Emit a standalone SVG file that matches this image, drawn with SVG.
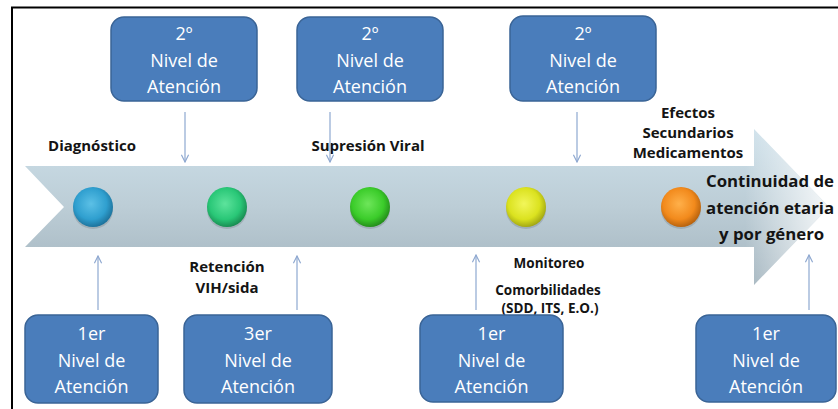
<svg xmlns="http://www.w3.org/2000/svg" width="838" height="409" viewBox="0 0 838 409">
  <defs>
    <style>
      .box rect { fill: #4a7dbb; stroke: #3a6496; stroke-width: 1.5; }
      .box text { fill: #ffffff; font-family: "Open Sans", "Liberation Sans", sans-serif; font-size: 18px; text-anchor: middle; }
      .lbl { fill: #141414; font-family: "Open Sans", "Liberation Sans", sans-serif; font-weight: bold; font-size: 15px; text-anchor: middle; }
      .lbl.sm { font-size: 13.5px; }
      .lbl.lg { font-size: 16.8px; text-anchor: start; }
      .conn line { stroke: #8ea8d0; stroke-width: 1.2; fill: none; marker-end: url(#tip); }
    </style>
    <marker id="tip" viewBox="0 0 10 10" refX="9" refY="5" markerWidth="9" markerHeight="9" markerUnits="userSpaceOnUse" orient="auto">
      <path d="M1,1 L9,5 L1,9" fill="none" stroke="#8ea8d0" stroke-width="1.3"/>
    </marker>
    <linearGradient id="shaft" x1="0" y1="0" x2="0" y2="1">
      <stop offset="0" stop-color="#cde0ea"/>
      <stop offset="0.5" stop-color="#bccdd6"/>
      <stop offset="1" stop-color="#a3b4be"/>
    </linearGradient>
    <linearGradient id="fade" gradientUnits="userSpaceOnUse" x1="745" y1="0" x2="830" y2="0">
      <stop offset="0" stop-color="#ffffff" stop-opacity="0"/>
      <stop offset="1" stop-color="#ffffff" stop-opacity="0.85"/>
    </linearGradient>
    <radialGradient id="gBlue" cx="0.45" cy="0.42" r="0.6">
      <stop offset="0" stop-color="#5cc0e6"/>
      <stop offset="0.65" stop-color="#2f9fcf"/>
      <stop offset="1" stop-color="#1c6f98"/>
    </radialGradient>
    <radialGradient id="gTeal" cx="0.45" cy="0.42" r="0.6">
      <stop offset="0" stop-color="#5de39c"/>
      <stop offset="0.65" stop-color="#29c777"/>
      <stop offset="1" stop-color="#18884f"/>
    </radialGradient>
    <radialGradient id="gGreen" cx="0.45" cy="0.42" r="0.6">
      <stop offset="0" stop-color="#6ee65a"/>
      <stop offset="0.65" stop-color="#3bcc2a"/>
      <stop offset="1" stop-color="#23891a"/>
    </radialGradient>
    <radialGradient id="gYellow" cx="0.45" cy="0.42" r="0.6">
      <stop offset="0" stop-color="#f2f65a"/>
      <stop offset="0.65" stop-color="#dbe21f"/>
      <stop offset="1" stop-color="#9ea312"/>
    </radialGradient>
    <radialGradient id="gOrange" cx="0.45" cy="0.42" r="0.6">
      <stop offset="0" stop-color="#ffb04a"/>
      <stop offset="0.65" stop-color="#f28a1c"/>
      <stop offset="1" stop-color="#b35f0c"/>
    </radialGradient>
  </defs>

  <rect width="838" height="409" fill="#ffffff"/>
  <!-- frame (top and left edges) -->
  <path d="M12,409 L12,7.5 L838,7.5" fill="none" stroke="#000000" stroke-width="2"/>

  <!-- timeline arrow -->
  <g id="timeline">
    <path d="M25,166 L754,166 L754,129 L829,207 L754,285 L754,247 L25,247 L64,207 Z" fill="url(#shaft)"/>
    <path d="M25,166 L754,166 L754,129 L829,207 L754,285 L754,247 L25,247 L64,207 Z" fill="url(#fade)"/>
  </g>

  <!-- milestones on the timeline -->
  <g id="dot-diagnostico">
    <ellipse cx="93" cy="210" rx="20" ry="19" fill="#000" opacity="0.12"/>
    <circle cx="93" cy="207" r="20" fill="url(#gBlue)"/>
  </g>
  <g id="dot-retencion">
    <ellipse cx="227" cy="210" rx="20" ry="19" fill="#000" opacity="0.12"/>
    <circle cx="227" cy="207" r="20" fill="url(#gTeal)"/>
  </g>
  <g id="dot-supresion">
    <ellipse cx="370" cy="210" rx="20" ry="19" fill="#000" opacity="0.12"/>
    <circle cx="370" cy="207" r="20" fill="url(#gGreen)"/>
  </g>
  <g id="dot-monitoreo">
    <ellipse cx="526" cy="210" rx="20" ry="19" fill="#000" opacity="0.12"/>
    <circle cx="526" cy="207" r="20" fill="url(#gYellow)"/>
  </g>
  <g id="dot-efectos">
    <ellipse cx="681" cy="210" rx="20" ry="19" fill="#000" opacity="0.12"/>
    <circle cx="681" cy="207" r="20" fill="url(#gOrange)"/>
  </g>

  <!-- stage labels -->
  <g id="label-diagnostico"><text class="lbl" x="92" y="151">Diagnóstico</text></g>
  <g id="label-supresion"><text class="lbl" x="368" y="151">Supresión Viral</text></g>
  <g id="label-efectos">
    <text class="lbl" x="688" y="118">Efectos</text>
    <text class="lbl" x="688" y="138">Secundarios</text>
    <text class="lbl" x="688" y="158">Medicamentos</text>
  </g>
  <g id="label-continuidad">
    <text class="lbl lg" x="706" y="187">Continuidad de</text>
    <text class="lbl lg" x="706" y="214">atención etaria</text>
    <text class="lbl lg" x="719" y="240">y por género</text>
  </g>
  <g id="label-retencion">
    <text class="lbl" x="227" y="272">Retención</text>
    <text class="lbl" x="227" y="293">VIH/sida</text>
  </g>
  <g id="label-monitoreo">
    <text class="lbl sm" x="549" y="268">Monitoreo</text>
    <text class="lbl sm" x="548" y="295">Comorbilidades</text>
    <text class="lbl sm" x="550" y="313">(SDD, ITS, E.O.)</text>
  </g>

  <!-- care level boxes, top row -->
  <g id="nivel2-a" class="box">
    <rect x="111" y="17" width="146" height="84" rx="13"/>
    <text x="184" y="40">2º</text>
    <text x="184" y="67">Nivel de</text>
    <text x="184" y="93">Atención</text>
  </g>
  <g id="nivel2-b" class="box">
    <rect x="297" y="17" width="146" height="84" rx="13"/>
    <text x="370" y="40">2º</text>
    <text x="370" y="67">Nivel de</text>
    <text x="370" y="93">Atención</text>
  </g>
  <g id="nivel2-c" class="box">
    <rect x="510" y="16" width="146" height="85" rx="13"/>
    <text x="583" y="40">2º</text>
    <text x="583" y="67">Nivel de</text>
    <text x="583" y="93">Atención</text>
  </g>

  <!-- care level boxes, bottom row -->
  <g id="nivel1-a" class="box">
    <rect x="25" y="315" width="133" height="88" rx="13"/>
    <text x="91.5" y="340">1er</text>
    <text x="91.5" y="367">Nivel de</text>
    <text x="91.5" y="393">Atención</text>
  </g>
  <g id="nivel3" class="box">
    <rect x="184" y="315" width="148" height="88" rx="13"/>
    <text x="258" y="340">3er</text>
    <text x="258" y="367">Nivel de</text>
    <text x="258" y="393">Atención</text>
  </g>
  <g id="nivel1-b" class="box">
    <rect x="420" y="315" width="143" height="87" rx="13"/>
    <text x="491.5" y="340">1er</text>
    <text x="491.5" y="367">Nivel de</text>
    <text x="491.5" y="393">Atención</text>
  </g>
  <g id="nivel1-c" class="box">
    <rect x="696" y="315" width="140" height="87" rx="13"/>
    <text x="766" y="340">1er</text>
    <text x="766" y="367">Nivel de</text>
    <text x="766" y="393">Atención</text>
  </g>

  <!-- connectors -->
  <g id="connectors" class="conn">
    <line x1="185" y1="112" x2="185" y2="162"/>
    <line x1="330" y1="112" x2="330" y2="162"/>
    <line x1="577" y1="112" x2="577" y2="162"/>
    <line x1="98" y1="310" x2="98" y2="256"/>
    <line x1="297" y1="310" x2="297" y2="256"/>
    <line x1="476" y1="310" x2="476" y2="255"/>
    <line x1="809" y1="310" x2="809" y2="255"/>
  </g>
</svg>
